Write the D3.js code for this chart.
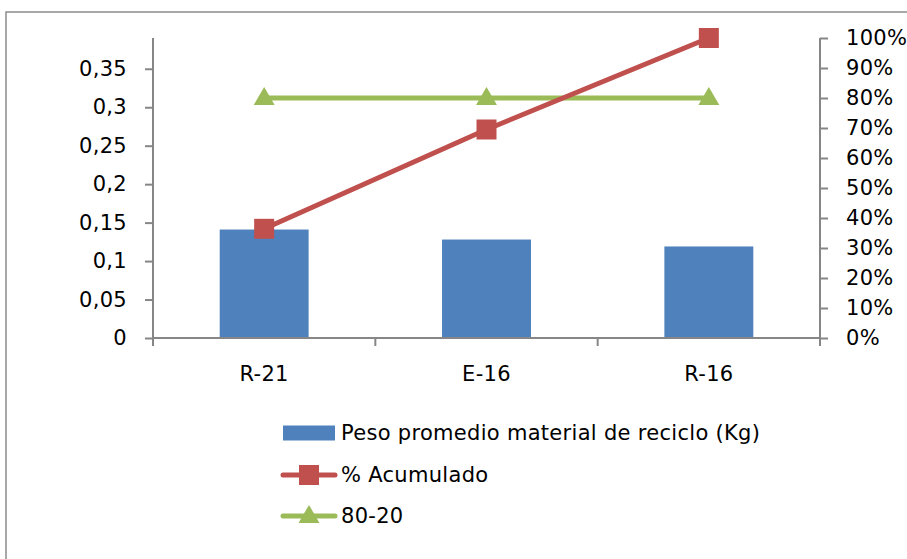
<!DOCTYPE html>
<html>
<head>
<meta charset="utf-8">
<script src="https://cdn.jsdelivr.net/npm/d3@7/dist/d3.min.js"></script>
<style>
  html, body { margin: 0; padding: 0; background: #fff; }
  svg { display: block; }
  text { font-family: "DejaVu Sans", sans-serif; fill: #000; letter-spacing: 0.3px; }
</style>
</head>
<body>
<svg id="chart" width="907" height="559"></svg>
<script>
// Categories and series
const categories = ["R-21", "E-16", "R-16"];
const pesoPromedio = [0.141, 0.128, 0.119];        // kg, bars (left axis)
const acumulado = [0.364, 0.695, 1.0];              // cumulative share (right axis)
const ochentaVeinte = [0.8, 0.8, 0.8];              // 80-20 reference (right axis)

const leftTicks = [0, 0.05, 0.1, 0.15, 0.2, 0.25, 0.3, 0.35];
const leftTickLabels = ["0", "0,05", "0,1", "0,15", "0,2", "0,25", "0,3", "0,35"];
const rightTicks = [0, 0.1, 0.2, 0.3, 0.4, 0.5, 0.6, 0.7, 0.8, 0.9, 1.0];
const rightTickLabels = ["0%", "10%", "20%", "30%", "40%", "50%", "60%", "70%", "80%", "90%", "100%"];

const seriesNames = ["Peso promedio material de reciclo (Kg)", "% Acumulado", "80-20"];

const colors = { bar: "#4F81BD", acum: "#C0504D", ref: "#9BBB59", axis: "#868686" };

const plot = { left: 153, right: 820, top: 38, bottom: 338 };
const fontSize = 21;
const fontFamily = "'DejaVu Sans', sans-serif";

const svg = d3.select("#chart");

// Outer chart frame
svg.append("rect")
  .attr("x", 6).attr("y", 12)
  .attr("width", 1000).attr("height", 1000)
  .attr("fill", "none")
  .attr("stroke", "#8c8c8c")
  .attr("stroke-width", 1.5);

const x = d3.scaleBand().domain(categories).range([plot.left, plot.right])
  .paddingInner(0.6).paddingOuter(0.3);
const xCat = d3.scaleBand().domain(categories).range([plot.left, plot.right]).padding(0);
const yL = d3.scaleLinear().domain([0, 0.39]).range([plot.bottom, plot.top]);
const yR = d3.scaleLinear().domain([0, 1]).range([plot.bottom, plot.top]);

// Bars
svg.append("g").selectAll("rect")
  .data(pesoPromedio)
  .join("rect")
  .attr("x", (d, i) => x(categories[i]))
  .attr("y", d => yL(d))
  .attr("width", x.bandwidth())
  .attr("height", d => yL(0) - yL(d))
  .attr("fill", colors.bar);

// Left axis
const axL = svg.append("g")
  .attr("transform", `translate(${plot.left},0)`)
  .call(d3.axisLeft(yL).tickValues(leftTicks)
    .tickFormat((d, i) => leftTickLabels[i]).tickSize(8).tickPadding(18));
axL.select(".domain").attr("d", `M0,${plot.top}V${plot.bottom}`);

// Right axis
const axR = svg.append("g")
  .attr("transform", `translate(${plot.right},0)`)
  .call(d3.axisRight(yR).tickValues(rightTicks)
    .tickFormat((d, i) => rightTickLabels[i]).tickSize(8).tickPadding(18));
axR.select(".domain").attr("d", `M0,${plot.top}V${plot.bottom}`);

// Category axis: ticks sit on category boundaries
const axX = svg.append("g")
  .attr("transform", `translate(0,${plot.bottom})`)
  .call(d3.axisBottom(xCat).tickSize(0).tickPadding(28));
axX.select(".domain").attr("d", `M${plot.left},0H${plot.right}`);
const bounds = [plot.left].concat(categories.map(c => xCat(c) + xCat.bandwidth()));
axX.selectAll("line.bound").data(bounds).join("line")
  .attr("class", "bound")
  .attr("x1", d => d).attr("x2", d => d)
  .attr("y1", 0).attr("y2", 8);

[axL, axR, axX].forEach(g => {
  g.selectAll(".domain").attr("stroke", colors.axis).attr("stroke-width", 2);
  g.selectAll("line").attr("stroke", colors.axis).attr("stroke-width", 2);
  g.selectAll("text").attr("font-size", fontSize).attr("font-family", fontFamily).attr("fill", "#000");
});

const cx = c => xCat(c) + xCat.bandwidth() / 2;

// 80-20 reference line
const lineRef = d3.line().x((d, i) => cx(categories[i])).y(d => yR(d));
svg.append("path").datum(ochentaVeinte)
  .attr("d", lineRef).attr("fill", "none")
  .attr("stroke", colors.ref).attr("stroke-width", 5);

const tri = d3.symbol().type(d3.symbolTriangle).size(190);
svg.append("g").selectAll("path")
  .data(ochentaVeinte).join("path")
  .attr("d", tri)
  .attr("transform", (d, i) => `translate(${cx(categories[i])},${yR(d) + 1})`)
  .attr("fill", colors.ref);

// Cumulative line
svg.append("path").datum(acumulado)
  .attr("d", lineRef).attr("fill", "none")
  .attr("stroke", colors.acum).attr("stroke-width", 5);

svg.append("g").selectAll("rect")
  .data(acumulado).join("rect")
  .attr("x", (d, i) => cx(categories[i]) - 10)
  .attr("y", d => yR(d) - 10)
  .attr("width", 20).attr("height", 20)
  .attr("fill", colors.acum);

// Legend
const legend = svg.append("g").attr("transform", "translate(283,0)");
const rows = [433, 475, 516];

legend.append("rect").attr("x", 0).attr("y", rows[0] - 7.5)
  .attr("width", 52).attr("height", 15).attr("fill", colors.bar);

legend.append("line").attr("x1", 0).attr("x2", 52)
  .attr("y1", rows[1]).attr("y2", rows[1])
  .attr("stroke", colors.acum).attr("stroke-width", 5).attr("stroke-linecap", "round");
legend.append("rect").attr("x", 26 - 10).attr("y", rows[1] - 10)
  .attr("width", 20).attr("height", 20).attr("fill", colors.acum);

legend.append("line").attr("x1", 0).attr("x2", 52)
  .attr("y1", rows[2]).attr("y2", rows[2])
  .attr("stroke", colors.ref).attr("stroke-width", 5).attr("stroke-linecap", "round");
legend.append("path").attr("d", tri)
  .attr("transform", `translate(26,${rows[2] + 1})`).attr("fill", colors.ref);

legend.selectAll("text.lbl").data(seriesNames).join("text")
  .attr("class", "lbl")
  .attr("x", 58)
  .attr("y", (d, i) => rows[i])
  .attr("dy", "0.35em")
  .attr("font-size", fontSize)
  .attr("font-family", fontFamily)
  .text(d => d);
</script>
</body>
</html>
